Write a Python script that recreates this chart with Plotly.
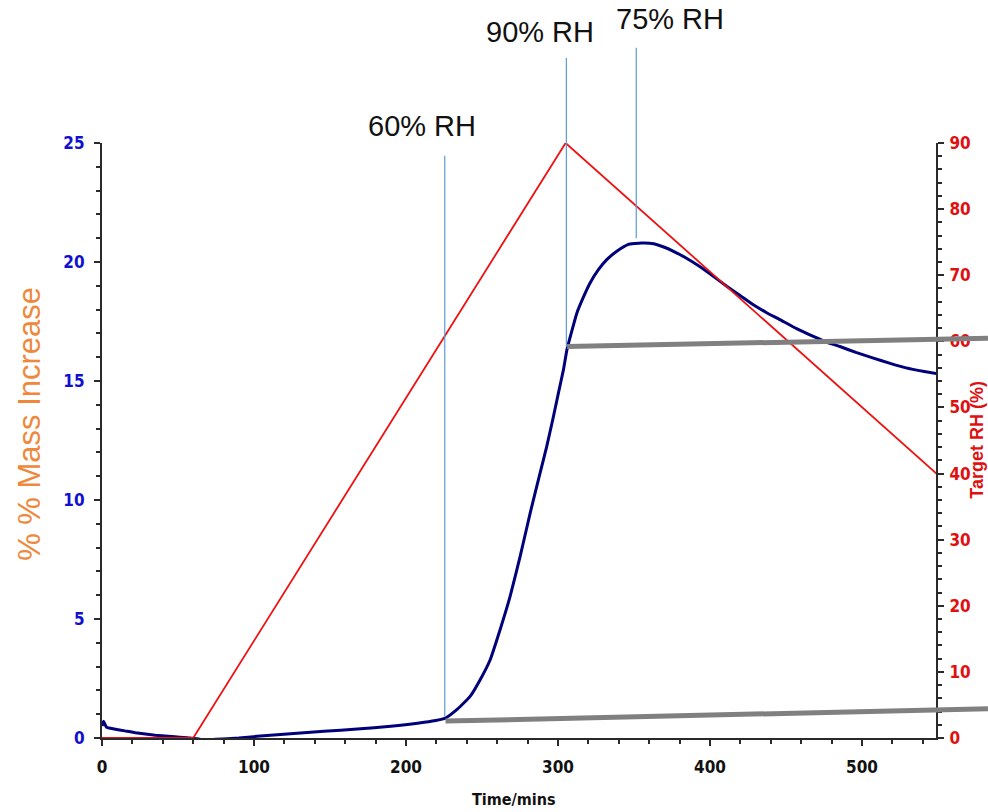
import plotly.graph_objects as go

# Sample mass change (% increase) versus time
time_min = [0, 1, 3, 8, 15, 22, 35, 48, 58, 65, 75, 90, 102, 124, 146, 168, 190,
            212, 226, 234, 242.2, 248.8, 255.4, 261.9, 268.5, 275.1, 281.7, 288.2,
            292.6, 297.0, 300.3, 303.6, 306, 312.4, 316.5, 321.1, 326.6, 332.1,
            338.7, 346, 355, 363, 370, 376, 384, 393, 402, 411, 420, 428.5, 437,
            446, 457, 468, 476, 485.5, 496, 507, 518, 529, 541, 553]
mass_pct = [0.5, 0.7, 0.45, 0.38, 0.3, 0.22, 0.12, 0.05, 0.0, -0.06, -0.05, 0.0,
            0.07, 0.18, 0.28, 0.38, 0.49, 0.66, 0.84, 1.22, 1.75, 2.45, 3.29, 4.55,
            5.95, 7.63, 9.45, 11.13, 12.25, 13.51, 14.5, 15.48, 16.35, 17.85, 18.49,
            19.12, 19.68, 20.1, 20.45, 20.73, 20.8, 20.77, 20.62, 20.45, 20.18,
            19.82, 19.41, 18.98, 18.58, 18.2, 17.88, 17.58, 17.2, 16.87, 16.65,
            16.45, 16.2, 15.97, 15.75, 15.55, 15.4, 15.27]

# Target relative humidity programme
rh_time = [0, 60, 305, 549]
rh_target = [0, 0, 90, 40]

# Step markers: time, mass where the marker meets the curve, top of marker (mass units)
marker_labels = ["60% RH", "90% RH", "75% RH"]
marker_time = [225.5, 305.5, 351.5]
marker_bottom = [0.9, 16.45, 21.0]
marker_top = [24.46, 28.57, 29.0]
label_time = [210.4, 288.4, 373.5]
label_mass = [25.7, 29.66, 30.2]

# Baselines drawn through the onset points (time, mass) -> (time, mass)
baseline_start = [(226, 0.71), (306, 16.45)]
baseline_end = [(582.9, 1.23), (582.9, 16.8)]

X_MAX = 548.7
Y_MAX = 25
RH_MAX = 90

TICK_FONT = "Liberation Sans Narrow, DejaVu Sans Condensed, Arial Narrow, sans-serif"
TEXT_FONT = "Liberation Sans, Arial, sans-serif"

fig = go.Figure()

fig.add_trace(go.Scatter(
    x=rh_time, y=rh_target, mode="lines", yaxis="y2",
    line=dict(color="#ee1111", width=1.8), showlegend=False))

fig.add_trace(go.Scatter(
    x=time_min, y=mass_pct, mode="lines",
    line=dict(color="#00007a", width=3, shape="spline", smoothing=0.4),
    showlegend=False))

shapes = []
for t, yb, yt in zip(marker_time, marker_bottom, marker_top):
    shapes.append(dict(type="line", xref="x", yref="paper",
                       x0=t, x1=t, y0=yb / Y_MAX, y1=yt / Y_MAX,
                       line=dict(color="#5b9bd5", width=1.2)))
for (t0, m0), (t1, m1) in zip(baseline_start, baseline_end):
    shapes.append(dict(type="line", xref="paper", yref="paper",
                       x0=t0 / X_MAX, x1=t1 / X_MAX, y0=m0 / Y_MAX, y1=m1 / Y_MAX,
                       line=dict(color="#808080", width=5)))

annotations = []
for text, t, m in zip(marker_labels, label_time, label_mass):
    annotations.append(dict(text=text, xref="x", yref="paper", x=t, y=m / Y_MAX,
                            showarrow=False, xanchor="center", yanchor="middle",
                            font=dict(family=TEXT_FONT, size=29, color="#111111")))

annotations += [
    dict(text="% % Mass Increase", xref="paper", yref="paper", x=-0.0863, y=0.528,
         textangle=-90, showarrow=False, xanchor="center", yanchor="middle",
         font=dict(family=TEXT_FONT, size=31, color="#f0883c")),
    dict(text="Target RH (%)", xref="paper", yref="paper", x=1.049, y=0.501,
         textangle=-90, showarrow=False, xanchor="center", yanchor="middle",
         font=dict(family=TEXT_FONT, size=18, color="#e01010", weight="bold")),
    dict(text="Time/mins", xref="paper", yref="paper", x=0.494, y=-0.104,
         showarrow=False, xanchor="center", yanchor="middle",
         font=dict(family=TICK_FONT, size=16, color="#111111", weight="bold")),
]

axis_common = dict(showgrid=False, zeroline=False, showline=True,
                   linecolor="#2a2a2a", linewidth=2, ticks="outside",
                   ticklen=6, tickwidth=2, tickcolor="#2a2a2a")

fig.update_layout(
    width=988, height=812,
    margin=dict(l=102, r=52, t=143, b=74),
    paper_bgcolor="white", plot_bgcolor="white",
    xaxis=dict(range=[0, X_MAX], dtick=100, tick0=0,
               minor=dict(dtick=20, ticks="outside", ticklen=4, tickwidth=1.5,
                          tickcolor="#2a2a2a"),
               tickfont=dict(family=TICK_FONT, size=17, color="#111111", weight="bold"),
               ticklabelstandoff=7, **axis_common),
    yaxis=dict(range=[0, Y_MAX], dtick=5, tick0=0,
               minor=dict(dtick=1, ticks="outside", ticklen=4, tickwidth=1.5,
                          tickcolor="#2a2a2a"),
               tickfont=dict(family=TICK_FONT, size=17, color="#1010d0", weight="bold"),
               ticklabelstandoff=6, **axis_common),
    yaxis2=dict(range=[0, RH_MAX], dtick=10, tick0=0, overlaying="y", side="right",
                minor=dict(dtick=2, ticks="outside", ticklen=4, tickwidth=1.5,
                           tickcolor="#2a2a2a"),
                tickfont=dict(family=TICK_FONT, size=17, color="#e01010", weight="bold"),
                ticklabelstandoff=2, **axis_common),
    shapes=shapes,
    annotations=annotations,
    showlegend=False,
)

fig.write_html("out.html")
